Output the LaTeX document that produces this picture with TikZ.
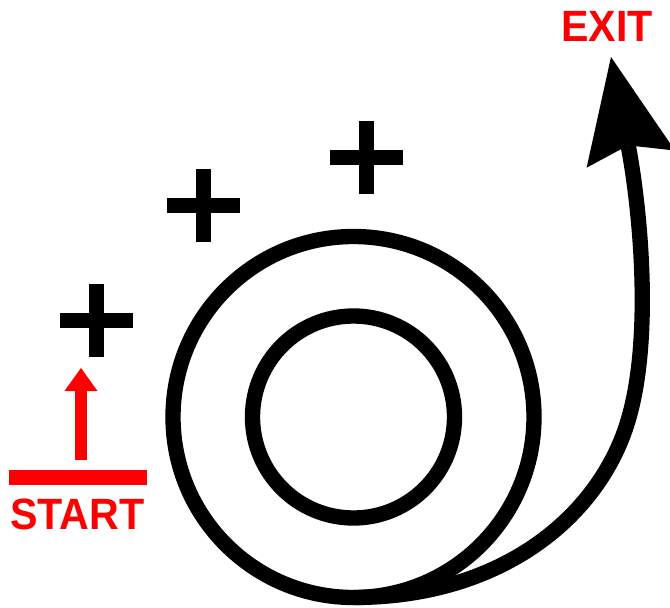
\documentclass[tikz,border=0pt]{standalone}
\usepackage{fontspec}
\setmainfont{Liberation Sans}
\usepackage{graphicx}
\usepackage{tikz}
\usetikzlibrary{arrows.meta}

\begin{document}
\begin{tikzpicture}[x=0.03cm, y=0.03cm,
	ring/.style={draw=black, line width=0.46cm},
	plus/.style={draw=black, line width=0.45cm},
	salida/.style={draw=black, line width=0.46cm, -{Stealth[length=3.12cm, width=2.7cm, inset=0.42cm, line width=0pt]}},
	entrada/.style={draw=red, line width=0.36cm, -{Triangle[length=0.69cm, width=0.99cm, line width=0pt]}},
	linea_inicio/.style={draw=red, line width=0.45cm},
	etiqueta/.style={text=red, font=\bfseries\fontsize{37.4}{40}\selectfont, inner sep=0pt}
	]

	\useasboundingbox (0,0) rectangle (670,607);

	% Anillos concéntricos
	\coordinate (centro) at (353.5,190);
	\draw[ring] (centro) circle (180.5);
	\draw[ring] (centro) circle (101);

	% Cruces
	\coordinate (cruzA) at (96,286.5);
	\coordinate (cruzB) at (203.5,401.5);
	\coordinate (cruzC) at (366.5,449.5);
	\foreach \c in {cruzA, cruzB, cruzC}
		\draw[plus] (\c) ++(-36.5,0) -- ++(73,0) (\c) ++(0,-36.5) -- ++(0,73);

	% Trayectoria de salida
	\coordinate (inicio) at (353.5,9.5);
	\coordinate (codo) at (625,177);
	\coordinate (punta) at (611,550);
	\draw[salida] (inicio) .. controls (500,9.5) and (594,88) .. (codo)
		.. controls (654.7,261.6) and (639.5,403) .. (punta);

	% Línea de partida y flecha roja
	\coordinate (barraI) at (9,129.5);
	\coordinate (barraD) at (147,129.5);
	\draw[linea_inicio] (barraI) -- (barraD);
	\coordinate (pie) at (81,147);
	\coordinate (tope) at (81,239);
	\draw[entrada] (pie) -- (tope);

	% Textos
	\node[etiqueta] (start) at (77.5,93) {\scalebox{0.94}[1]{START}};
	\node[etiqueta] (exit) at (607,581) {\scalebox{0.94}[1]{EXIT}};

\end{tikzpicture}
\end{document}
